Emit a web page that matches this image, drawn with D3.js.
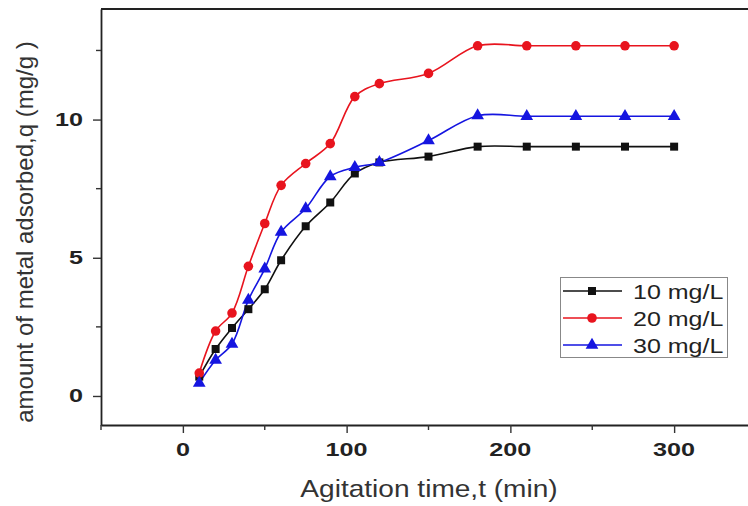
<!DOCTYPE html>
<html>
<head>
<meta charset="utf-8">
<script src="https://cdn.jsdelivr.net/npm/d3@7"></script>
<style>
  html, body { margin: 0; padding: 0; background: #fff; }
  svg { display: block; }
  text { font-family: "Liberation Sans", Arial, sans-serif; }
</style>
</head>
<body>
<svg id="chart" width="748" height="506"></svg>
<script>
// ---- data ----
const times = [10, 20, 30, 40, 50, 60, 75, 90, 105, 120, 150, 180, 210, 240, 270, 300];
const q10 = [0.7, 1.7, 2.46, 3.14, 3.86, 4.91, 6.14, 7.0, 8.05, 8.45, 8.66, 9.02, 9.02, 9.02, 9.02, 9.02];
const q20 = [0.83, 2.35, 3.0, 4.69, 6.24, 7.62, 8.41, 9.13, 10.83, 11.3, 11.67, 12.67, 12.67, 12.67, 12.67, 12.67];
const q30 = [0.47, 1.3, 1.88, 3.47, 4.6, 5.93, 6.78, 7.94, 8.27, 8.45, 9.24, 10.14, 10.12, 10.12, 10.12, 10.12];
const seriesNames = ["10 mg/L", "20 mg/L", "30 mg/L"];
const xTicks = [0, 100, 200, 300];
const xMinorTicks = [-50, 50, 150, 250, 350];
const yTicks = [0, 5, 10];
const yMinorTicks = [2.5, 7.5, 12.5];
const xTitle = "Agitation time,t (min)";
const yTitle = "amount of metal adsorbed,q (mg/g )";

// ---- layout ----
const svg = d3.select("#chart");
const x = d3.scaleLinear().domain([-50, 350]).range([101, 756]);
const y = d3.scaleLinear().domain([-1.05, 14]).range([425, 9]);

const series = [
  { name: seriesNames[0], values: q10, color: "#111111", shape: "square" },
  { name: seriesNames[1], values: q20, color: "#e8141e", shape: "circle" },
  { name: seriesNames[2], values: q30, color: "#1515e0", shape: "triangle" }
];

function symbolPath(shape) {
  if (shape === "square") return d3.symbol().type(d3.symbolSquare).size(64)();
  if (shape === "circle") return d3.symbol().type(d3.symbolCircle).size(72)();
  return d3.symbol().type(d3.symbolTriangle).size(70)();
}

// frame: top line
svg.append("line")
  .attr("x1", x(-50)).attr("x2", 748)
  .attr("y1", y(14)).attr("y2", y(14))
  .attr("stroke", "#222").attr("stroke-width", 1.8);

// x axis
const xAxis = svg.append("g").attr("transform", `translate(0,${y(-1.05)})`);
xAxis.call(d3.axisBottom(x).tickValues(xTicks).tickSize(8).tickSizeOuter(0).tickFormat(""))
  .call(g => g.select(".domain").attr("stroke", "#222").attr("stroke-width", 1.8))
  .call(g => g.selectAll(".tick line").attr("stroke", "#333").attr("stroke-width", 1.4));
xAxis.selectAll(".minor").data(xMinorTicks).enter().append("line")
  .attr("x1", d => x(d)).attr("x2", d => x(d))
  .attr("y1", 0).attr("y2", 5)
  .attr("stroke", "#333").attr("stroke-width", 1.4);
svg.append("g").selectAll("text").data(xTicks).enter().append("text")
  .attr("transform", d => `translate(${x(d)},456) scale(1.4,1)`)
  .attr("text-anchor", "middle")
  .attr("font-size", 18).attr("font-weight", "bold").attr("fill", "#222")
  .text(d => d);

// y axis
const yAxis = svg.append("g").attr("transform", `translate(${x(-50)},0)`);
yAxis.call(d3.axisLeft(y).tickValues(yTicks).tickSize(8).tickSizeOuter(0).tickFormat(""))
  .call(g => g.select(".domain").attr("stroke", "#222").attr("stroke-width", 1.8))
  .call(g => g.selectAll(".tick line").attr("stroke", "#333").attr("stroke-width", 1.4));
yAxis.selectAll(".minor").data(yMinorTicks).enter().append("line")
  .attr("x1", 0).attr("x2", -5)
  .attr("y1", d => y(d)).attr("y2", d => y(d))
  .attr("stroke", "#333").attr("stroke-width", 1.4);
svg.append("g").selectAll("text").data(yTicks).enter().append("text")
  .attr("transform", d => `translate(83,${y(d) + 6.5}) scale(1.4,1)`)
  .attr("text-anchor", "end")
  .attr("font-size", 18).attr("font-weight", "bold").attr("fill", "#222")
  .text(d => d);

// axis titles
svg.append("text")
  .attr("transform", "translate(429,497) scale(1.17,1)")
  .attr("text-anchor", "middle")
  .attr("font-size", 24).attr("fill", "#333")
  .text(xTitle);
svg.append("text")
  .attr("transform", "translate(33,232) rotate(-90)")
  .attr("text-anchor", "middle")
  .attr("font-size", 24).attr("fill", "#333")
  .text(yTitle);

// lines
const line = d3.line()
  .x(d => x(d[0])).y(d => y(d[1]))
  .curve(d3.curveCatmullRom.alpha(0.5));

const plot = svg.append("g");
series.forEach(s => {
  const pts = times.map((t, i) => [t, s.values[i]]);
  plot.append("path")
    .datum(pts)
    .attr("fill", "none")
    .attr("stroke", s.color)
    .attr("stroke-width", 1.6)
    .attr("d", line);
});
series.forEach(s => {
  const pts = times.map((t, i) => [t, s.values[i]]);
  plot.append("g").selectAll("path").data(pts).enter().append("path")
    .attr("d", symbolPath(s.shape))
    .attr("transform", d => `translate(${x(d[0])},${y(d[1])})`)
    .attr("fill", s.color);
});

// legend
const leg = svg.append("g");
leg.append("rect")
  .attr("x", 560.5).attr("y", 277.5).attr("width", 167).attr("height", 80)
  .attr("fill", "#fff").attr("stroke", "#888").attr("stroke-width", 1);
const rowY = [291, 318, 345];
series.forEach((s, i) => {
  leg.append("line")
    .attr("x1", 563).attr("x2", 622).attr("y1", rowY[i]).attr("y2", rowY[i])
    .attr("stroke", s.color).attr("stroke-width", 1.6);
  leg.append("path")
    .attr("d", symbolPath(s.shape))
    .attr("transform", `translate(592,${rowY[i]})`)
    .attr("fill", s.color);
  leg.append("text")
    .attr("transform", `translate(633,${rowY[i] + 8}) scale(1.25,1)`)
    .attr("font-size", 20).attr("fill", "#222")
    .text(s.name);
});
</script>
</body>
</html>
